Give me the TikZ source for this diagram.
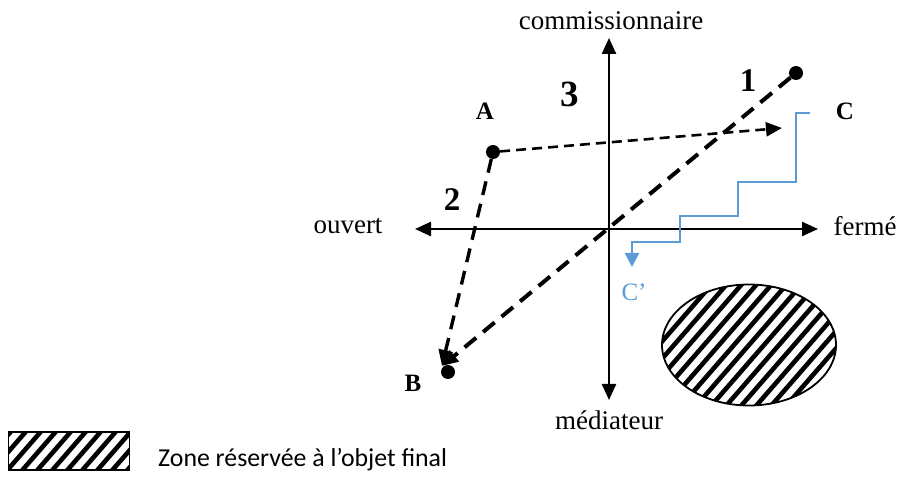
\documentclass[tikz,border=0pt]{standalone}
\usepackage{fontspec}
\setmainfont{Liberation Serif}
\newfontfamily\legendfont{Carlito}
\usetikzlibrary{arrows.meta,shapes.geometric}
\definecolor{stepblue}{HTML}{5B9BD5}
\begin{document}
\begin{tikzpicture}[x=1pt,y=-1pt,
  axisline/.style={line width=2.4pt,{Triangle[length=16pt,width=14pt]}-{Triangle[length=16pt,width=14pt]}},
  lbl/.style={font=\fontsize{27}{30}\selectfont,inner sep=0pt},
  boldlbl/.style={font=\fontsize{25}{30}\selectfont\bfseries,inner sep=0pt},
  numlbl/.style={font=\fontsize{33}{36}\selectfont\bfseries,inner sep=0pt},
  dot/.style={circle,fill=black,inner sep=0pt,minimum size=14pt},
  dashthick/.style={line width=4pt,dash pattern=on 15pt off 9pt},
  dashmid/.style={line width=3.4pt,dash pattern=on 14pt off 9pt},
  dashthin/.style={line width=2.6pt,dash pattern=on 10pt off 6pt},
  tip/.style={-{Triangle[length=16pt,width=14pt]}},
  hatch/.style={path picture={
     \foreach \i in {-240,-225,...,240}
       \draw[line width=4.6pt] ([xshift={(\i-100)*1pt},yshift=-115pt]path picture bounding box.center) -- ++(200pt,230pt);}},
  stepthin/.style={stepblue,line width=1.3pt},
  stepthick/.style={stepblue,line width=2.6pt}
]
\useasboundingbox (0,0) rectangle (898,481);

% axes
\coordinate (xL) at (415,229);
\coordinate (xR) at (818,229);
\coordinate (yT) at (609,38);
\coordinate (yB) at (609,400);
\draw[axisline] (xL) -- (xR);
\draw[axisline] (yT) -- (yB);

\node[lbl] (comm) at (611,21) {commissionnaire};
\node[lbl] (med) at (609,420) {médiateur};
\node[lbl] (ouv) at (348,226) {ouvert};
\node[lbl] (fer) at (865,226) {fermé};

% points
\node[dot] (P1) at (796,73) {};
\node[dot] (A) at (493,152) {};
\node[dot] (B) at (448,372) {};
\coordinate (tipB) at (442,366);
\coordinate (tipC) at (782,128);

\node[boldlbl] (lA) at (485,111) {A};
\node[boldlbl] (lB) at (413,383) {B};
\node[boldlbl] (lC) at (845,111) {C};
\node[boldlbl,text=stepblue,font=\fontsize{25}{30}\selectfont] (lCp) at (634,292) {C’};
\node[numlbl] (n1) at (748,81) {1};
\node[numlbl] (n2) at (452,200) {2};
\node[numlbl,font=\fontsize{37}{40}\selectfont\bfseries] (n3) at (570,94) {3};

% dashed arrows
\draw[dashthin,tip] (A) -- (tipC);
\draw[dashmid,tip] (A) -- (tipB);
\draw[dashthick,tip] (P1) -- (tipB);

% blue staircase
\coordinate (s0) at (810,113);
\coordinate (s1) at (680,218);
\coordinate (s2) at (632,267);
\draw[stepthin] (s0) -- (796,113) -- (796,182) -- (738,182) -- (738,216) -- (680,216) -- (s1);
\draw[stepthick,-{Triangle[length=14pt,width=14pt]}] (s1) -- (680,242) -- (632,242) -- (s2);

% hatched zone
\node[ellipse,draw,line width=1.8pt,minimum width=174pt,minimum height=121pt,inner sep=0pt,hatch] (zone) at (749,345) {};

% legend
\node[rectangle,draw,line width=1.8pt,minimum width=121pt,minimum height=38pt,inner sep=0pt,hatch] (leg) at (69,451) {};
\node[anchor=west,inner sep=0pt,font=\legendfont\fontsize{25.8}{30}\selectfont] (legt) at (158,460) {Zone réservée à l’objet final};
\end{tikzpicture}
\end{document}
